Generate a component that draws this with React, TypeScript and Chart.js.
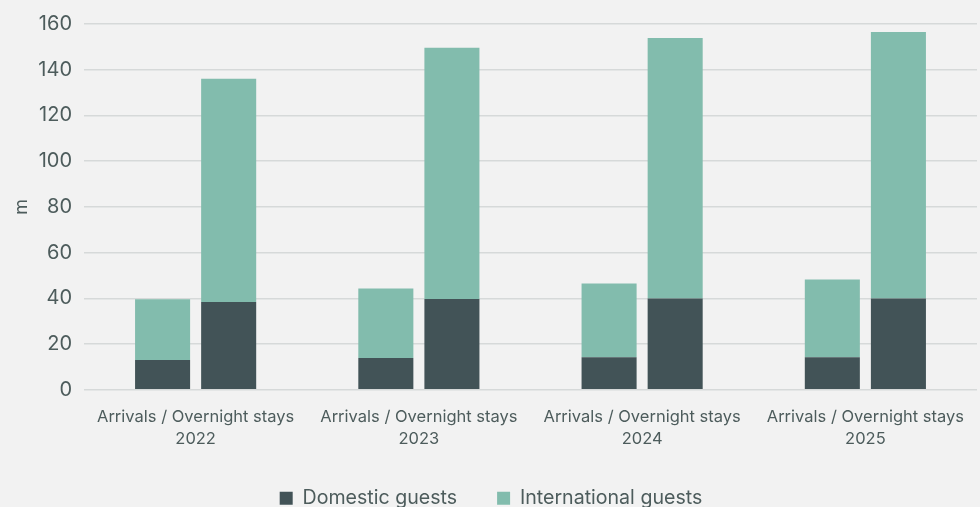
import React, { useEffect, useRef } from "react";
import { Chart, registerables } from "chart.js";

Chart.register(...registerables);

const years = ["2022", "2023", "2024", "2025"];
const groupLabel = "Arrivals / Overnight stays";
const arrivalsDomestic = [13.0, 13.9, 14.3, 14.3];
const arrivalsInternational = [26.6, 30.4, 32.2, 34.0];
const overnightDomestic = [38.4, 39.7, 40.0, 40.0];
const overnightInternational = [97.7, 109.9, 113.9, 116.5];
const seriesNames = ["Domestic guests", "International guests"];

const DARK = "#425357";
const TEAL = "#82bcad";
const TEXT = "#4d5c5c";

const LEGEND_SHRINK = 16;
const LEGEND_LIFT = 10;

const legendFitPatch = {
  id: "legendFitPatch",
  beforeLayout(chart: any) {
    const lg: any = chart.legend;
    if (lg && !lg._patched) {
      const orig = lg.fit.bind(lg);
      lg.fit = function () {
        orig();
        this.height -= LEGEND_SHRINK;
      };
      lg._patched = true;
    }
  },
  afterLayout(chart: any) {
    const lg: any = chart.legend;
    if (lg) {
      lg.top -= LEGEND_LIFT;
      lg.height += LEGEND_LIFT;
    }
  },
};

export default function App() {
  const ref = useRef<HTMLCanvasElement | null>(null);
  useEffect(() => {
    document.body.style.margin = "0";
    const ctx = ref.current!;
    const font = "Inter, 'Open Sans', sans-serif";
    const chart = new Chart(ctx, {
      type: "bar",
      plugins: [legendFitPatch],
      data: {
        labels: years.map((y) => [groupLabel, y]),
        datasets: [
          { label: seriesNames[0], data: arrivalsDomestic, backgroundColor: DARK, stack: "arrivals" },
          { label: seriesNames[1], data: arrivalsInternational, backgroundColor: TEAL, stack: "arrivals" },
          { label: seriesNames[0], data: overnightDomestic, backgroundColor: DARK, stack: "overnight" },
          { label: seriesNames[1], data: overnightInternational, backgroundColor: TEAL, stack: "overnight" },
        ],
      },
      options: {
        animation: false,
        responsive: true,
        maintainAspectRatio: false,
        datasets: { bar: { categoryPercentage: 0.592, barPercentage: 0.833 } },
        layout: { padding: { top: -4, right: 3, left: 5, bottom: -5 } },
        plugins: {
          legend: {
            position: "bottom",
            labels: {
              filter: (item: any) => item.datasetIndex < 2,
              boxWidth: 13,
              boxHeight: 13,
              padding: 40,
              color: TEXT,
              font: { family: font, size: 19.6 },
            },
          },
          tooltip: { enabled: false },
        },
        scales: {
          x: {
            stacked: true,
            grid: { display: false },
            border: { display: false },
            ticks: {
              color: TEXT,
              font: { family: font, size: 16.5, lineHeight: 1.35 },
              padding: 8,
              maxRotation: 0,
            },
          },
          y: {
            stacked: true,
            min: 0,
            max: 160,
            afterFit: (scale: any) => {
              scale.width = 79;
            },
            ticks: { stepSize: 20, color: TEXT, font: { family: font, size: 20 }, padding: 12 },
            grid: { color: "#d6d9d9", lineWidth: 1.5, drawTicks: false },
            border: { display: false },
            title: { display: true, text: "m", color: TEXT, font: { family: font, size: 18 }, padding: 6 },
          },
        },
      },
    });
    return () => chart.destroy();
  }, []);
  return (
    <div style={{ width: 980, height: 507, background: "#f2f2f2", position: "relative" }}>
      <canvas ref={ref} />
    </div>
  );
}
